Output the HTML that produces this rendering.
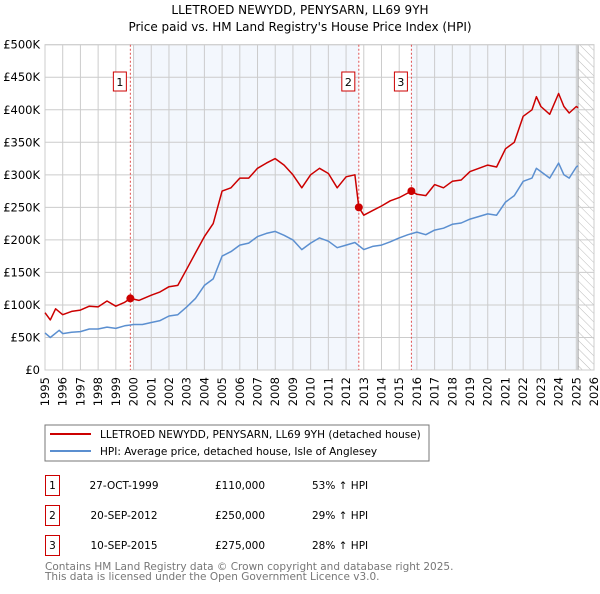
<!DOCTYPE html>
<html><head><meta charset="utf-8"><style>
body{margin:0;background:#fff;width:600px;height:590px;overflow:hidden;font-family:"DejaVu Sans","Liberation Sans",sans-serif;}
svg text{font-family:"DejaVu Sans","Liberation Sans",sans-serif;}
</style></head><body>
<svg id="c" width="600" height="590" xmlns="http://www.w3.org/2000/svg">
<text x="300" y="14" text-anchor="middle" font-size="12">LLETROED NEWYDD, PENYSARN, LL69 9YH</text>
<text x="300" y="31" text-anchor="middle" font-size="12">Price paid vs. HM Land Registry's House Price Index (HPI)</text>
<g id="plot"></g>
<rect x="45" y="425" width="384" height="36" fill="#fff" stroke="#777"/>
<line x1="50" y1="434" x2="91" y2="434" stroke="#cc0000" stroke-width="2"/>
<text x="100" y="438" font-size="10.5">LLETROED NEWYDD, PENYSARN, LL69 9YH (detached house)</text>
<line x1="50" y1="451" x2="91" y2="451" stroke="#5b8fd0" stroke-width="2"/>
<text x="100" y="455" font-size="10.5">HPI: Average price, detached house, Isle of Anglesey</text>
<g font-size="10.5" id="tbl"></g>
<text x="45" y="570" font-size="10.5" fill="#777">Contains HM Land Registry data © Crown copyright and database right 2025.</text>
<text x="45" y="580" font-size="10.5" fill="#777">This data is licensed under the Open Government Licence v3.0.</text>
</svg>
<script>
const yTicks=[0,50,100,150,200,250,300,350,400,450,500];
const yTickLabels=["£0","£50K","£100K","£150K","£200K","£250K","£300K","£350K","£400K","£450K","£500K"];
const years=[1995,1996,1997,1998,1999,2000,2001,2002,2003,2004,2005,2006,2007,2008,2009,2010,2011,2012,2013,2014,2015,2016,2017,2018,2019,2020,2021,2022,2023,2024,2025,2026];
const hpiT=[1995,1995.3,1995.8,1996,1996.5,1997,1997.5,1998,1998.5,1999,1999.5,2000,2000.5,2001,2001.5,2002,2002.5,2003,2003.5,2004,2004.5,2005,2005.5,2006,2006.5,2007,2007.5,2008,2008.5,2009,2009.5,2010,2010.5,2011,2011.5,2012,2012.5,2013,2013.5,2014,2014.5,2015,2015.5,2016,2016.5,2017,2017.5,2018,2018.5,2019,2019.5,2020,2020.5,2021,2021.5,2022,2022.5,2022.75,2023,2023.5,2024,2024.3,2024.6,2025,2025.1];
const hpiV=[57,50,61,56,58,59,63,63,66,64,68,70,70,73,76,83,85,97,110,130,140,175,182,192,195,205,210,213,207,200,185,195,203,198,188,192,196,185,190,192,197,203,208,212,208,215,218,224,226,232,236,240,238,258,268,290,295,310,305,295,318,300,295,312,314];
const propT=[1995,1995.3,1995.6,1996,1996.5,1997,1997.5,1998,1998.5,1999,1999.5,1999.82,2000.3,2001,2001.5,2002,2002.5,2003,2003.5,2004,2004.5,2005,2005.5,2006,2006.5,2007,2007.5,2008,2008.5,2009,2009.5,2010,2010.5,2011,2011.5,2012,2012.5,2012.72,2013,2013.5,2014,2014.5,2015,2015.69,2016,2016.5,2017,2017.5,2018,2018.5,2019,2019.5,2020,2020.5,2021,2021.5,2022,2022.5,2022.75,2023,2023.5,2024,2024.3,2024.6,2025,2025.1];
const propV=[88,77,94,85,90,92,98,97,106,98,104,110,107,115,120,128,130,155,180,205,225,275,280,295,295,310,318,325,315,300,280,300,310,302,280,297,300,250,238,245,252,260,265,275,270,268,285,280,290,292,305,310,315,312,340,350,390,400,420,405,393,425,405,395,405,403];
const saleT=[1999.82,2012.72,2015.69];
const saleV=[110,250,275];
const saleLabels=["1","2","3"];
const saleDates=["27-OCT-1999","20-SEP-2012","10-SEP-2015"];
const salePrices=["£110,000","£250,000","£275,000"];
const saleHpi=["53% ↑ HPI","29% ↑ HPI","28% ↑ HPI"];

const X0=45,X1=594,Y0=370,Y1=44.7;
const xs=t=>X0+(t-1995)/(2026-1995)*(X1-X0);
const ys=v=>Y0-v/500*(Y0-Y1);
const NS="http://www.w3.org/2000/svg";
const plot=document.getElementById('plot');
function mk(tag,attrs,parent){const e=document.createElementNS(NS,tag);for(const k in attrs)e.setAttribute(k,attrs[k]);(parent||plot).appendChild(e);return e;}

// shading
let e=mk('rect',{x:xs(2000),y:Y1,width:xs(saleT[1])-xs(2000),height:Y0-Y1,fill:'#eef3fc',opacity:0.7});


e=mk('rect',{x:xs(saleT[2]),y:Y1,width:xs(2025.1)-xs(saleT[2]),height:Y0-Y1,fill:'#eef3fc',opacity:0.7});


// hatch
const defs=mk('defs',{});
const pat=mk('pattern',{id:'h',width:6,height:6,patternUnits:'userSpaceOnUse',patternTransform:'rotate(-45)'},defs);
mk('line',{x1:0,y1:0,x2:0,y2:6,stroke:'#bbb','stroke-width':1},pat);
e=mk('rect',{x:xs(2025.1),y:Y1,width:X1-xs(2025.1),height:Y0-Y1,fill:'url(#h)'});


mk('line',{x1:xs(2025.1),y1:Y1,x2:xs(2025.1),y2:Y0,stroke:'#999','stroke-width':1});
// grid
yTicks.forEach((v,i)=>{
  mk('line',{x1:X0,y1:ys(v),x2:X1,y2:ys(v),stroke:'#ccc','stroke-width':1});
  const t=mk('text',{x:X0-5,y:ys(v)+4,'text-anchor':'end','font-size':11.5});
  t.textContent=yTickLabels[i];
  
  
});
years.forEach(y=>{
  mk('line',{x1:xs(y),y1:Y1,x2:xs(y),y2:Y0,stroke:'#ccc','stroke-width':1});
  const t=mk('text',{x:0,y:0,'text-anchor':'end','font-size':11.5,transform:`translate(${xs(y)+4},${Y0+7}) rotate(-90)`});
  t.textContent=y;
  
  
});
mk('rect',{x:X0,y:Y1,width:X1-X0,height:Y0-Y1,fill:'none',stroke:'#ccc'});
// sale lines
saleT.forEach((t,i)=>{
  const l=mk('line',{x1:xs(t),y1:Y1,x2:xs(t),y2:Y0,stroke:'#e05050','stroke-width':1,'stroke-dasharray':'2,2'});
  
  
  const r=mk('rect',{x:xs(t)-17,y:72,width:13,height:19,fill:'#fff',stroke:'#cc0000'});
  
  
  const tx=mk('text',{x:xs(t)-10.5,y:86,'text-anchor':'middle','font-size':11});
  tx.textContent=saleLabels[i];
  
  
});
function line(T,V,col,name){
  const p=mk('polyline',{points:T.map((t,i)=>xs(t).toFixed(1)+','+ys(V[i]).toFixed(1)).join(' '),fill:'none',stroke:col,'stroke-width':1.5,'stroke-linejoin':'round'});
  
  
}
line(hpiT,hpiV,'#5b8fd0','hpi-line');
line(propT,propV,'#cc0000','property-line');
saleT.forEach((t,i)=>{
  const c=mk('circle',{cx:xs(t),cy:ys(saleV[i]),r:4,fill:'#cc0000'});
  
  
});
// table
const tbl=document.getElementById('tbl');
saleT.forEach((t,i)=>{
  const y=475+i*30;
  const r=mk('rect',{x:45.5,y:y+0.5,width:14,height:20,fill:'none',stroke:'#cc0000'},tbl);
  
  
  const cells=[[52.5,saleLabels[i],'middle'],[124,saleDates[i],'middle'],[240,salePrices[i],'middle'],[312,saleHpi[i],'start']];
  cells.forEach(c=>{const tx=mk('text',{x:c[0],y:y+14,'text-anchor':c[2]},tbl);tx.textContent=c[1];
    
    });
});
</script>
</body></html>
